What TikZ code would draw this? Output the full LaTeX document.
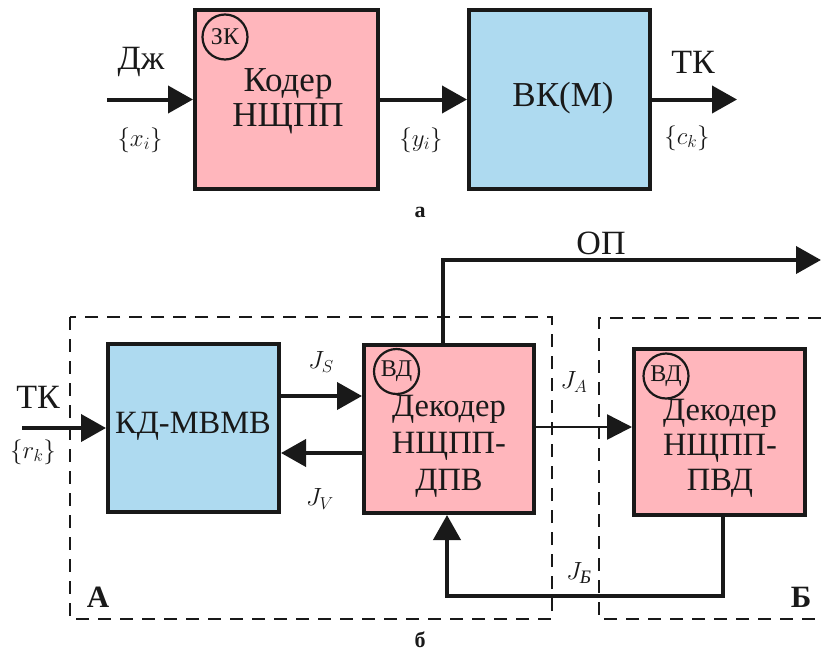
\documentclass[tikz,border=0pt]{standalone}
\usepackage{fontspec}
\setmainfont{Liberation Serif}
\usetikzlibrary{arrows.meta}
\definecolor{pinkf}{RGB}{255,182,188}
\definecolor{bluef}{RGB}{174,218,240}
\definecolor{ink}{RGB}{25,25,25}
\begin{document}
\begin{tikzpicture}[x=1pt,y=-1pt,
  blk/.style={draw=ink,line width=4pt,inner sep=0pt},
  pinkblk/.style={blk,fill=pinkf},
  blueblk/.style={blk,fill=bluef},
  btext/.style={align=center,text=ink,inner sep=0pt},
  tag/.style={draw=ink,line width=2.2pt,circle,minimum size=45pt,inner sep=0pt,text=ink,font=\fontsize{24}{26}\selectfont},
  lbl/.style={text=ink,inner sep=0pt,font=\fontsize{34}{36}\selectfont},
  mlbl/.style={text=ink,inner sep=0pt,font=\fontsize{27}{30}\selectfont},
  boldlbl/.style={text=ink,inner sep=0pt,font=\fontsize{31}{33}\selectfont\bfseries},
  figcap/.style={text=ink,inner sep=0pt,font=\fontsize{22}{24}\selectfont\bfseries},
  arr/.style={draw=ink,line width=4pt,-{Triangle[length=25pt,width=27pt]}},
  thinarr/.style={draw=ink,line width=2.5pt,-{Triangle[length=25pt,width=25pt]}},
  region/.style={draw=ink,line width=2pt,dash pattern=on 13pt off 9pt}
]
\useasboundingbox (0,0) rectangle (821,653);

% ---------- panel a ----------
\node[pinkblk,minimum width=183pt,minimum height=179pt] (kod) at (286.5,99.5) {};
\node[btext,font=\fontsize{35}{35}\selectfont] (kodt) at (288,101) {Кодер\\НЩПП};
\node[tag] (zk) at (225,37) {ЗК};
\node[blueblk,minimum width=181pt,minimum height=179pt] (vk) at (559.5,99.5) {};
\node[btext,font=\fontsize{35}{35}\selectfont] (vkt) at (563,98) {ВК(М)};

\coordinate (ain) at (107,99.5);
\coordinate (aout) at (737,99.5);
\draw[arr] (ain) -- (kod.west);
\draw[arr] (kod.east) -- (vk.west);
\draw[arr] (vk.east) -- (aout);

\node[lbl] (dzh) at (141,62) {Дж};
\node[mlbl] (xi) at (140,140) {$\{x_i\}$};
\node[mlbl] (yi) at (421,140) {$\{y_i\}$};
\node[lbl] (tk1) at (693,62) {ТК};
\node[mlbl] (ck) at (687,138) {$\{c_k\}$};
\node[figcap] (capa) at (420,212) {а};

% ---------- panel b ----------
\draw[region] (70,317) rectangle (552,619);
\draw[region] (821,318) -- (599,318) -- (599,619) -- (821,619);

\node[blueblk,minimum width=171pt,minimum height=168pt] (kd) at (193.5,428) {};
\node[btext,font=\fontsize{32.5}{35}\selectfont] (kdt) at (193,426) {КД-МВМВ};
\node[pinkblk,minimum width=170pt,minimum height=168pt] (dpv) at (449,429) {};
\node[btext,font=\fontsize{32.5}{37}\selectfont] (dpvt) at (449,446) {Декодер\\НЩПП-\\ДПВ};
\node[tag] (vd1) at (396.5,371.5) {ВД};
\node[pinkblk,minimum width=171pt,minimum height=166pt] (pvd) at (719.5,432) {};
\node[btext,font=\fontsize{32.5}{35}\selectfont] (pvdt) at (720,448) {Декодер\\НЩПП-\\ПВД};
\node[tag] (vd2) at (666,376) {ВД};

\coordinate (tkin) at (22,428);
\coordinate (opend) at (821,260);
\draw[arr] (tkin) -- (kd.west);
\draw[arr] (kd.east |- 0,396) -- (dpv.west |- 0,396);
\draw[arr] (dpv.west |- 0,453) -- (kd.east |- 0,453);
\draw[thinarr] (dpv.east |- 0,427) -- (pvd.west |- 0,427);
\draw[arr,line join=miter] (443,0 |- dpv.north) |- (opend);
\draw[arr,line join=miter] (723,0 |- pvd.south) -- (723,596) -| (447,0 |- dpv.south);

\node[lbl] (tk2) at (38,397) {ТК};
\node[mlbl] (rk) at (33,452) {$\{r_k\}$};
\node[mlbl] (js) at (321,362) {$J_S$};
\node[mlbl] (jv) at (320,499) {$J_V$};
\node[mlbl] (ja) at (574,382) {$J_A$};
\node[mlbl] (jb) at (579,573) {$J_{\mbox{\fontsize{19}{20}\selectfont\itshape Б}}$};
\node[lbl] (op) at (601,243) {ОП};
\node[boldlbl] (la) at (98,597) {А};
\node[boldlbl] (lb) at (801,597) {Б};
\node[figcap] (capb) at (420,640) {б};
\end{tikzpicture}
\end{document}
